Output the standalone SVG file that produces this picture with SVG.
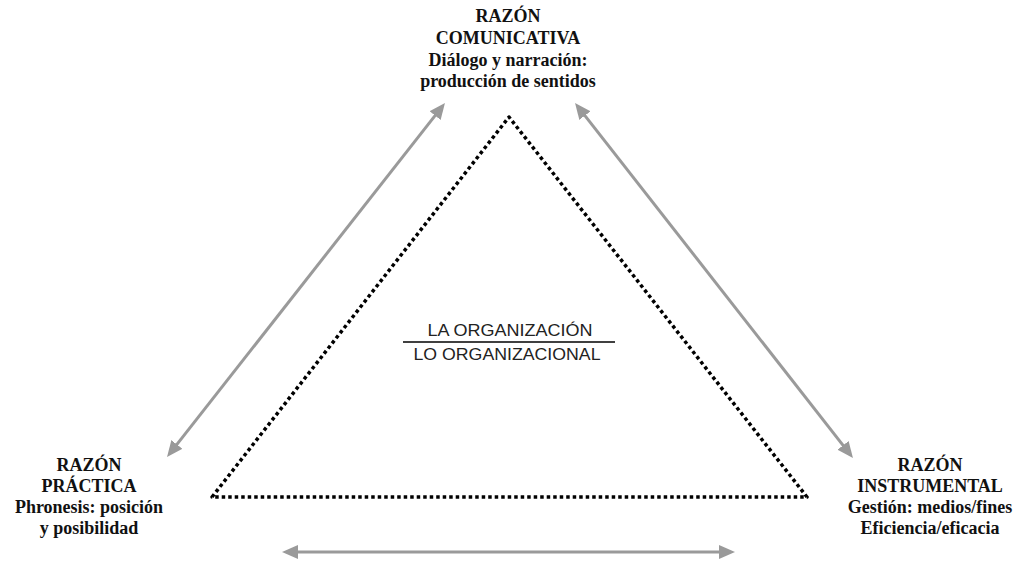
<svg xmlns="http://www.w3.org/2000/svg" width="1017" height="562" viewBox="0 0 1017 562">
<style>
.node{font-family:"Liberation Serif","Times New Roman",serif;font-weight:bold;font-size:18px;fill:#111;text-anchor:middle}
.center{font-family:"Liberation Sans",Arial,sans-serif;font-size:16.5px;fill:#222;text-anchor:middle}
.arrow{stroke:#9a9a9a;stroke-width:3;fill:none;marker-start:url(#ah);marker-end:url(#ah)}
.tri{stroke:#000;stroke-width:3.5;fill:none;stroke-dasharray:3.5 3;stroke-linejoin:round}
</style>
<defs>
<marker id="ah" viewBox="0 0 16 14" refX="6" refY="7" markerWidth="16" markerHeight="14" markerUnits="userSpaceOnUse" orient="auto-start-reverse">
<path d="M0,0 L16,7 L0,14 z" fill="#9a9a9a"/>
</marker>
</defs>
<rect width="1017" height="562" fill="#fff"/>
<g id="connectors">
<line class="arrow" x1="438.8" y1="110.9" x2="173.2" y2="449.1"/>
<line class="arrow" x1="581.2" y1="110.9" x2="846.8" y2="450.1"/>
<line class="arrow" x1="292" y1="552" x2="725" y2="552"/>
</g>
<g id="triangle">
<path class="tri" d="M212,497 L509,117 L807,497 Z"/>
</g>
<g id="center">
<text class="center" x="510" y="336" textLength="165" lengthAdjust="spacingAndGlyphs">LA ORGANIZACIÓN</text>
<line x1="403" y1="342" x2="615" y2="342" stroke="#000" stroke-width="1.5"/>
<text class="center" x="507" y="360" textLength="187" lengthAdjust="spacingAndGlyphs">LO ORGANIZACIONAL</text>
</g>
<g id="node-comunicativa">
<text class="node" x="508" y="22">RAZÓN</text>
<text class="node" x="508" y="44">COMUNICATIVA</text>
<text class="node" x="508" y="66">Diálogo y narración:</text>
<text class="node" x="508" y="87">producción de sentidos</text>
</g>
<g id="node-practica">
<text class="node" x="89" y="471">RAZÓN</text>
<text class="node" x="89" y="492">PRÁCTICA</text>
<text class="node" x="89" y="513">Phronesis: posición</text>
<text class="node" x="89" y="534">y posibilidad</text>
</g>
<g id="node-instrumental">
<text class="node" x="930" y="471">RAZÓN</text>
<text class="node" x="930" y="492">INSTRUMENTAL</text>
<text class="node" x="930" y="513">Gestión: medios/fines</text>
<text class="node" x="930" y="534">Eficiencia/eficacia</text>
</g>
</svg>
